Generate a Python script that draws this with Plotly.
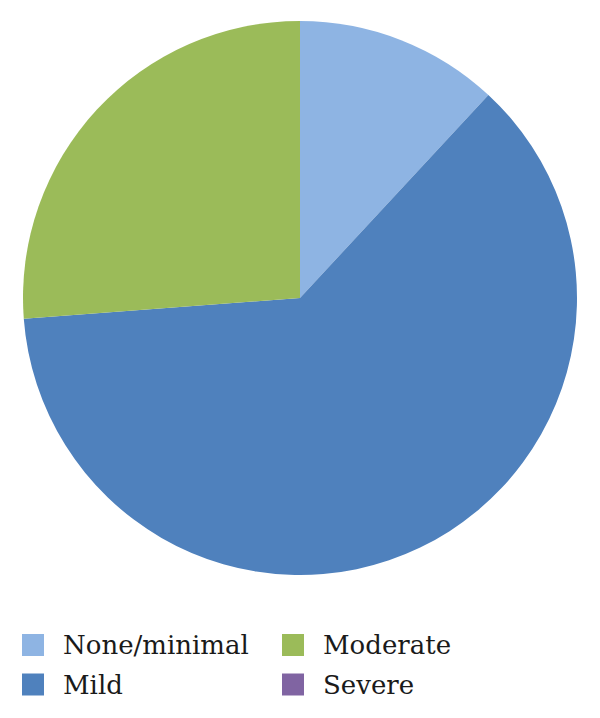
import plotly.graph_objects as go

categories = ["None/minimal", "Mild", "Moderate", "Severe"]
values = [5, 26, 11, 0]
colors = ["#8EB4E3", "#4F81BD", "#9BBB59", "#8064A2"]

W, H = 600, 718
OFF = 8  # page body margin offset compensation

fig = go.Figure()
fig.add_trace(go.Pie(
    labels=categories,
    values=values,
    marker=dict(colors=colors, line=dict(width=0)),
    sort=False,
    direction="clockwise",
    rotation=0,
    textinfo="none",
    showlegend=False,
    domain=dict(x=[(23 - OFF) / W, (577 - OFF) / W],
                y=[1 - (575 - OFF) / H, 1 - (21 - OFF) / H]),
))

# Manual two-column legend (column-major order like the original)
legend_pos = {
    "None/minimal": (22, 645),
    "Mild": (22, 684.5),
    "Moderate": (282, 645),
    "Severe": (282, 684.5),
}
shapes = []
annotations = []
for cat, col in zip(categories, colors):
    x0, yc = legend_pos[cat]
    x0 -= OFF
    yc -= OFF
    shapes.append(dict(
        type="rect", xref="paper", yref="paper",
        x0=x0 / W, x1=(x0 + 22) / W,
        y0=1 - (yc + 11) / H, y1=1 - (yc - 11) / H,
        fillcolor=col, line=dict(width=0),
    ))
    annotations.append(dict(
        text=cat, xref="paper", yref="paper",
        x=(x0 + 39) / W, y=1 - yc / H,
        xanchor="left", yanchor="middle", showarrow=False,
        font=dict(family="DejaVu Serif", size=26, color="#1a1a1a"),
    ))

fig.update_layout(
    width=W, height=H,
    margin=dict(l=0, r=0, t=0, b=0),
    paper_bgcolor="white",
    plot_bgcolor="white",
    shapes=shapes,
    annotations=annotations,
)

fig.write_html("out.html")
